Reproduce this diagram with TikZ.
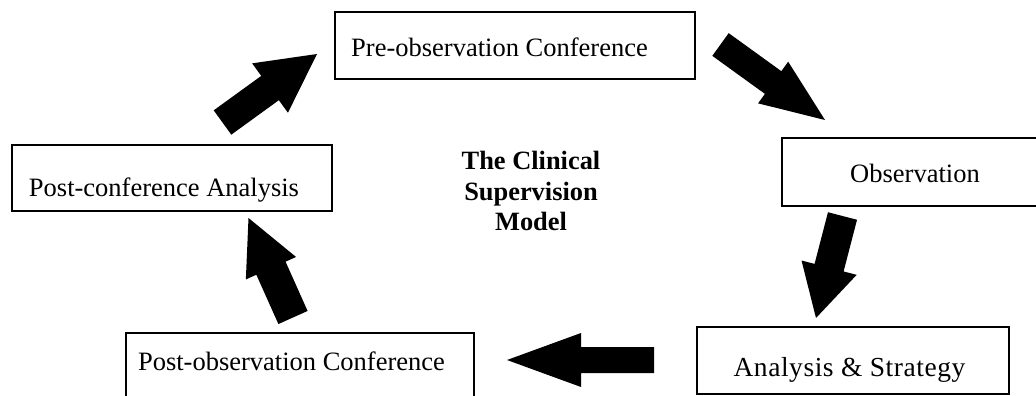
\documentclass[tikz,border=0pt]{standalone}
\usepackage{fontspec}
\setmainfont{Liberation Serif}
\newfontfamily\widefont[LetterSpace=2]{Liberation Serif}
\usetikzlibrary{calc}
\tikzset{
  stagebox/.style={draw=black, line width=2pt},
  stagetext/.style={anchor=base, inner sep=0pt, font=\fontsize{26.5}{30.5}\selectfont},
  titletext/.style={align=center, inner sep=0pt, font=\fontsize{26.4}{30.5}\selectfont\bfseries},
  bigarrow/.style={fill=black}
}
\newcommand\blockarrow[6]{%
  \coordinate (#6) at ($(#2)!#5!(#1)$);
  \fill[bigarrow] ($(#1)!#3!90:(#2)$) -- ($(#6)!#3!-90:(#1)$) -- ($(#6)!#4!-90:(#1)$) -- (#2)
    -- ($(#6)!#4!90:(#1)$) -- ($(#6)!#3!90:(#1)$) -- ($(#1)!#3!-90:(#2)$) -- cycle;}
\begin{document}
\begin{tikzpicture}[x=1pt,y=-1pt]
\useasboundingbox (0,0) rectangle (1036,396);
\clip (0,0) rectangle (1036,396);
\fill[white] (0,0) rectangle (1036,396);
% boxes
\draw[stagebox] (335,12) rectangle (695,79);
\draw[stagebox] (12,145) rectangle (332,211);
\draw[stagebox] (782,138) rectangle (1050,206);
\draw[stagebox] (697,327) rectangle (1009,394);
\draw[stagebox] (126,333) rectangle (474,410);
% labels
\node[stagetext] (pre) at (499.5,57) {Pre-observation Conference};
\node[stagetext] (postconf) at (164,196) {Post-conference Analysis};
\node[stagetext] (obs) at (915,182) {Observation};
\node[stagetext, font=\fontsize{27.5}{30.5}\widefont] (ana) at (849.5,376) {Analysis \& Strategy};
\node[stagetext] (postobs) at (291.5,370) {Post-observation Conference};
\node[titletext] (title) at (531,191) {The Clinical\\Supervision\\Model};
% arrows
\coordinate (a1t) at (222.5,122.5); \coordinate (a1p) at (317,54);
\coordinate (a2t) at (720.5,44.5);  \coordinate (a2p) at (825,120);
\coordinate (a3t) at (842.5,216);   \coordinate (a3p) at (816,318);
\coordinate (a4t) at (654,360);     \coordinate (a4p) at (507,360);
\coordinate (a5t) at (293,317.5);   \coordinate (a5p) at (248.5,218);
\blockarrow{a1t}{a1p}{15pt}{30.5pt}{58pt}{a1b}
\blockarrow{a2t}{a2p}{14pt}{25.7pt}{64pt}{a2b}
\blockarrow{a3t}{a3p}{15pt}{28.5pt}{52pt}{a3b}
\blockarrow{a4t}{a4p}{13pt}{27pt}{74pt}{a4b}
\blockarrow{a5t}{a5p}{16pt}{27.5pt}{55pt}{a5b}
\end{tikzpicture}
\end{document}
